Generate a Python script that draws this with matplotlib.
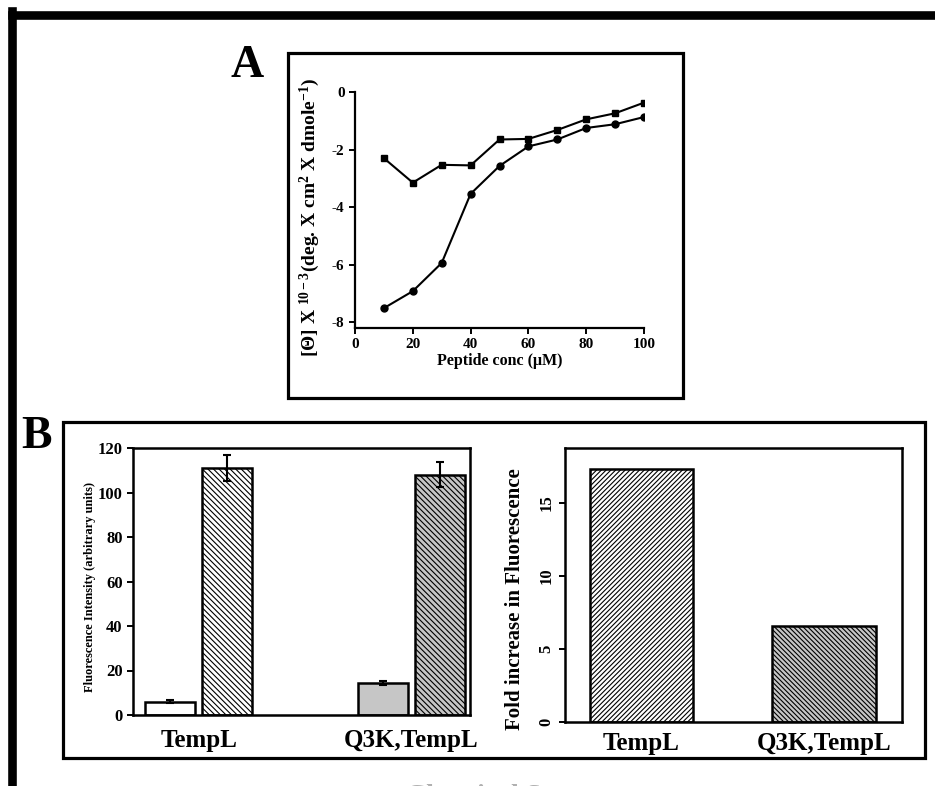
import numpy as np
import matplotlib
matplotlib.use('Agg')
from matplotlib import pyplot as plt
from matplotlib.patches import Rectangle
from matplotlib.lines import Line2D

plt.rcParams['font.family'] = 'Liberation Serif'
plt.rcParams['font.weight'] = 'bold'
plt.rcParams['axes.labelweight'] = 'bold'
plt.rcParams['mathtext.fontset'] = 'custom'
plt.rcParams['mathtext.rm'] = 'Liberation Serif:bold'
plt.rcParams['mathtext.bf'] = 'Liberation Serif:bold'
plt.rcParams['mathtext.it'] = 'Liberation Serif:bold:italic'
plt.rcParams['hatch.linewidth'] = 0.8

# panel A data
conc = [10, 20, 30, 40, 50, 60, 70, 80, 90, 100]
ellip_sq = [-2.3, -3.15, -2.53, -2.55, -1.65, -1.63, -1.32, -0.95, -0.74, -0.37]
ellip_ci = [-7.51, -6.92, -5.94, -3.54, -2.57, -1.89, -1.65, -1.25, -1.12, -0.87]

# panel B data
groups = ['TempL', 'Q3K,TempL']
before = [6.0, 14.4]
before_err = [0.6, 1.0]
after = [111.0, 108.0]
after_err = [6.0, 5.6]
fold = [17.3, 6.6]

W, H = 935, 786
fig = plt.figure(figsize=(W / 100, H / 100), dpi=100)


def ax_px(x0, y0, x1, y1):
    return fig.add_axes([x0 / W, 1 - y1 / H, (x1 - x0) / W, (y1 - y0) / H])


def box_px(x0, y0, x1, y1, lw=2.3):
    fig.add_artist(Rectangle((x0 / W, 1 - y1 / H), (x1 - x0) / W, (y1 - y0) / H,
                             transform=fig.transFigure, fill=False, lw=lw, ec='black'))


# outer frame (top and left)
fig.add_artist(Line2D([12 / W, 1], [1 - 15 / H] * 2, transform=fig.transFigure, lw=6.2, color='black'))
fig.add_artist(Line2D([12 / W] * 2, [0, 1 - 11 / H], transform=fig.transFigure, lw=6.2, color='black'))

# ---- panel A ----
box_px(288, 53, 683, 398)
fig.text(247 / W, 1 - 66 / H, 'A', fontsize=33, fontweight='bold', ha='center', va='center')

ax = ax_px(355, 92, 644, 328)
ax.plot(conc, ellip_sq, color='black', lw=1.5, marker='s', ms=4.5)
ax.plot(conc, ellip_ci, color='black', lw=1.5, marker='o', ms=5)
ax.set_xlim(0, 100)
ax.set_ylim(-8.2, 0)
ax.set_xticks([0, 20, 40, 60, 80, 100])
ax.set_yticks([0, -2, -4, -6, -8])
ax.set_yticklabels(['0', '-2', '-4', '-6', '-8'])
for s in ['top', 'right']:
    ax.spines[s].set_visible(False)
for s in ['left', 'bottom']:
    ax.spines[s].set_linewidth(1.6)
ax.tick_params(direction='out', width=1.4, length=4, labelsize=11)
ax.set_xlabel('Peptide conc (μM)', fontsize=11.5, labelpad=1)
ax.set_ylabel('[Θ] X $^{10-3}$(deg. X cm$^2$ X dmole$^{-1}$)', fontsize=14)
ax.yaxis.set_label_coords(-0.114, 0.47)

# ---- panel B ----
box_px(63, 422, 925, 758)
fig.text(36 / W, 1 - 437 / H, 'B', fontsize=33, fontweight='bold', ha='center', va='center')

x = np.arange(len(groups))
bw = 0.235
off = 0.134

ax1 = ax_px(133, 448, 470, 715)
ax1.bar(x - off, before, bw, yerr=before_err, color=['white', '#c6c6c6'], edgecolor='black',
        lw=1.8, capsize=3, error_kw=dict(lw=1.5, capthick=1.5))
ax1.bar(x + off, after, bw, yerr=after_err, color=['white', '#c6c6c6'], edgecolor='black',
        lw=1.8, hatch='\\' * 6, capsize=3, error_kw=dict(lw=1.5, capthick=1.5))
ax1.set_xlim(-0.31, 1.276)
ax1.set_ylim(0, 120)
ax1.set_yticks(range(0, 121, 20))
ax1.set_xticks(x)
ax1.set_xticklabels(groups, fontsize=18)
for s in ax1.spines.values():
    s.set_linewidth(1.8)
ax1.tick_params(axis='x', length=0, pad=10)
ax1.tick_params(axis='y', direction='out', width=1.4, length=4, labelsize=12)
ax1.set_ylabel('Fluorescence Intensity (arbitrary units)', fontsize=9)
ax1.yaxis.set_label_coords(-0.11, 0.48)

ax2 = ax_px(565, 448, 902, 722)
ax2.bar(x[0], fold[0], 0.57, color='white', edgecolor='black', lw=1.8, hatch='/' * 7)
ax2.bar(x[1], fold[1], 0.57, color='#c6c6c6', edgecolor='black', lw=1.8, hatch='\\' * 7)
ax2.set_xlim(-0.42, 1.43)
ax2.set_ylim(0, 18.75)
ax2.set_yticks([0, 5, 10, 15])
ax2.set_xticks(x)
ax2.set_xticklabels(groups, fontsize=18)
for s in ax2.spines.values():
    s.set_linewidth(1.8)
ax2.tick_params(axis='x', length=0, pad=7)
ax2.tick_params(axis='y', direction='out', width=1.4, length=4, labelsize=12)
for lab in ax2.get_yticklabels():
    lab.set_rotation(90)
    lab.set_va('center')
ax2.set_ylabel('Fold increase in Fluorescence', fontsize=15)
ax2.yaxis.set_label_coords(-0.119, 0.45)

# caption below, mostly cut off by the picture edge
fig.text(523 / W, 1 - 784 / H, 'Chemical Structure', fontsize=20, ha='center', va='top', color='#b0b0b0')

fig.savefig('out.png', dpi=100)
